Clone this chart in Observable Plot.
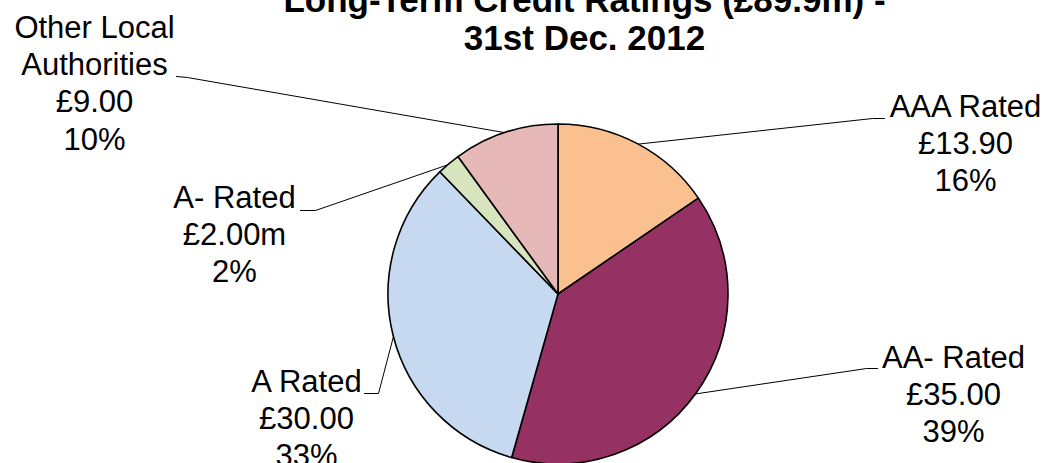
<!DOCTYPE html>
<html>
<head>
<meta charset="utf-8">
<script src="https://cdn.jsdelivr.net/npm/d3@7"></script>
<script src="https://cdn.jsdelivr.net/npm/@observablehq/plot@0.6"></script>
<style>
  html, body { margin: 0; padding: 0; background: #fff; }
  #chart { width: 1045px; height: 463px; overflow: hidden; }
</style>
</head>
<body>
<div id="chart"></div>
<script>
// ---- data ----
const categories = ["AAA Rated", "AA- Rated", "A Rated", "A- Rated", "Other Local\nAuthorities"];
const values = [13.9, 35.0, 30.0, 2.0, 9.0];
const valueLabels = ["£13.90", "£35.00", "£30.00", "£2.00m", "£9.00"];
const percentLabels = ["16%", "39%", "33%", "2%", "10%"];
const colors = ["#FAC090", "#953163", "#C6D9F1", "#D7E4BD", "#E6B9B8"];
const titleText = "Long-Term Credit Ratings (£89.9m) -\n31st Dec. 2012";

// ---- layout ----
const W = 1045, H = 463;
const cx = 558, cy = 294, R = 170;
// label text anchor (centre x, top y), leader start and elbow
const labelPos = [
  {x: 965, y: 90,  sx: 884, sy: 118, ex: 872, ey: 118},
  {x: 953, y: 341, sx: 877, sy: 368, ex: 866, ey: 368},
  {x: 306, y: 365, sx: 364, sy: 393, ex: 378, ey: 393},
  {x: 234, y: 181, sx: 300, sy: 210, ex: 315, ey: 210},
  {x: 94,  y: 11,  sx: 176, sy: 76,  ex: 187, ey: 77}
];

const rows = categories.map((c, i) => ({key: c, value: values[i], color: colors[i], i}));
const arcs = d3.pie().sort(null).value(d => d.value)(rows);

const labels = rows.map((d, i) => ({
  x: labelPos[i].x, y: labelPos[i].y,
  text: `${categories[i]}\n${valueLabels[i]}\n${percentLabels[i]}`
}));

const leaders = [];
arcs.forEach((a, i) => {
  const mid = (a.startAngle + a.endAngle) / 2;
  const p = labelPos[i];
  leaders.push({key: i, x: p.sx, y: p.sy});
  leaders.push({key: i, x: p.ex, y: p.ey});
  leaders.push({key: i, x: cx + R * Math.sin(mid), y: cy - R * Math.cos(mid)});
});

function pieMark(index, scales) {
  const sx = scales && scales.x ? scales.x : (v => v);
  const sy = scales && scales.y ? scales.y : (v => v);
  const x0 = sx(cx), y0 = sy(cy);
  const rr = sx(cx + R) - x0;
  const arc = d3.arc().innerRadius(0).outerRadius(rr);
  const g = d3.create("svg:g").attr("transform", `translate(${x0},${y0})`);
  g.selectAll("path").data(arcs).join("path")
    .attr("d", arc)
    .attr("fill", d => d.data.color)
    .attr("stroke", "#000")
    .attr("stroke-width", 1.6)
    .attr("stroke-linejoin", "round");
  return g.node();
}

const chart = Plot.plot({
  width: W, height: H,
  margin: 0,
  x: {domain: [0, W], range: [0, W], axis: null},
  y: {domain: [0, H], range: [0, H], axis: null},
  style: {fontFamily: "'Liberation Sans', Arial, sans-serif", background: "#fff", overflow: "hidden"},
  marks: [
    Plot.line(leaders, {x: "x", y: "y", z: "key", stroke: "#000", strokeWidth: 1, curve: "linear"}),
    pieMark,
    Plot.text(labels, {x: "x", y: "y", text: "text", fontSize: 31, lineAnchor: "top", lineHeight: 1.2, fill: "#000", textAnchor: "middle"}),
    Plot.text([titleText], {x: () => 584, y: () => -15, text: d => d, fontSize: 35, fontWeight: "bold", lineAnchor: "top", lineHeight: 1.07, fill: "#000", textAnchor: "middle"})
  ]
});
document.getElementById("chart").appendChild(chart);
</script>
</body>
</html>
